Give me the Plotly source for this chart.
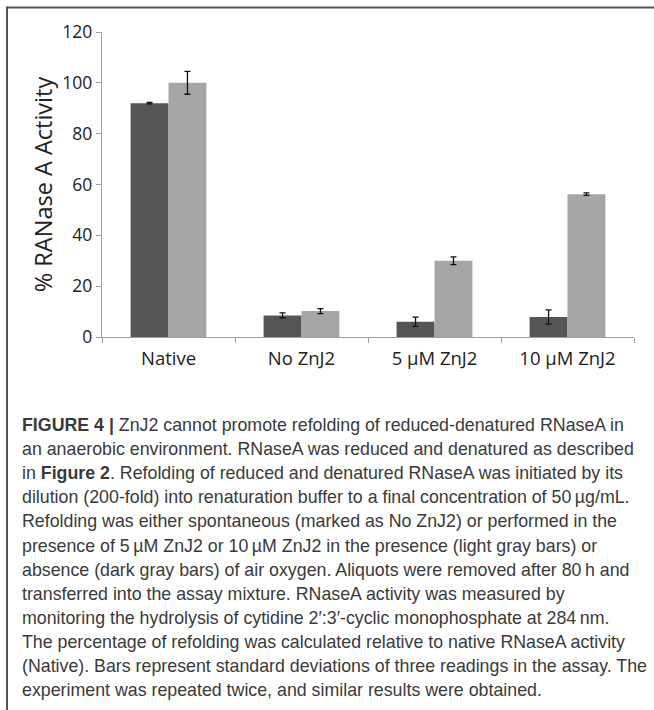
import plotly.graph_objects as go

categories = ["Native", "No ZnJ2", "5 µM ZnJ2", "10 µM ZnJ2"]
anaerobic = [92.0, 8.5, 6.0, 7.9]          # dark gray bars (absence of air oxygen)
anaerobic_err = [0.3, 1.0, 1.8, 2.8]
aerobic = [100.0, 10.2, 30.0, 56.2]        # light gray bars (presence of air oxygen)
aerobic_err = [4.5, 1.0, 1.5, 0.5]
y_ticks = [0, 20, 40, 60, 80, 100, 120]

caption_lines = [
    "<b>FIGURE 4 |</b> ZnJ2 cannot promote refolding of reduced-denatured RNaseA in",
    "an anaerobic environment. RNaseA was reduced and denatured as described",
    "in <b>Figure 2</b>. Refolding of reduced and denatured RNaseA was initiated by its",
    "dilution (200-fold) into renaturation buffer to a final concentration of 50\u2009µg/mL.",
    "Refolding was either spontaneous (marked as No ZnJ2) or performed in the",
    "presence of 5\u2009µM ZnJ2 or 10\u2009µM ZnJ2 in the presence (light gray bars) or",
    "absence (dark gray bars) of air oxygen. Aliquots were removed after 80\u2009h and",
    "transferred into the assay mixture. RNaseA activity was measured by",
    "monitoring the hydrolysis of cytidine 2\u2032:3\u2032-cyclic monophosphate at 284\u2009nm.",
    "The percentage of refolding was calculated relative to native RNaseA activity",
    "(Native). Bars represent standard deviations of three readings in the assay. The",
    "experiment was repeated twice, and similar results were obtained.",
]

W, H = 654, 710
PX0, PX1, PY_TOP, PY_BOT = 102, 634, 32, 337


def px(x):
    return (x - PX0) / (PX1 - PX0)


def py(y):
    return (PY_BOT - y) / (PY_BOT - PY_TOP)


fig = go.Figure()
fig.add_trace(go.Bar(
    x=categories, y=anaerobic, name="absence of air oxygen",
    marker=dict(color="#555555", line=dict(width=0)),
    error_y=dict(type="data", array=anaerobic_err, color="#111111", thickness=1.3, width=3),
))
fig.add_trace(go.Bar(
    x=categories, y=aerobic, name="presence of air oxygen",
    marker=dict(color="#a6a6a6", line=dict(width=0)),
    error_y=dict(type="data", array=aerobic_err, color="#111111", thickness=1.3, width=3),
))

fig.update_layout(
    width=W, height=H,
    margin=dict(l=PX0, r=W - PX1, t=PY_TOP, b=H - PY_BOT),
    paper_bgcolor="white", plot_bgcolor="white",
    barmode="group", bargap=0.43, bargroupgap=0.0,
    showlegend=False,
    xaxis=dict(
        showline=True, linecolor="#a0a0a0", linewidth=1.3,
        ticks="outside", ticklen=5, tickcolor="#a0a0a0", tickson="boundaries",
        tickfont=dict(family="Open Sans, Lato, sans-serif", size=18.5, color="#222222"),
        ticklabelstandoff=5,
        showgrid=False,
    ),
    yaxis=dict(
        range=[0, 120], tickvals=y_ticks,
        showline=True, linecolor="#a0a0a0", linewidth=1.3,
        ticks="outside", ticklen=5, tickcolor="#a0a0a0",
        tickfont=dict(family="Open Sans, Lato, sans-serif", size=17.5, color="#222222"),
        showgrid=False, zeroline=False,
        title=dict(text="% RANase A Activity",
                   font=dict(family="Open Sans, Lato, sans-serif", size=23.5, color="#222222"),
                   standoff=3),
    ),
)

# caption
cap_font = dict(family="Liberation Sans, Arial, sans-serif", size=17.8, color="#3a3a3a")
for i, line in enumerate(caption_lines):
    fig.add_annotation(
        text=line, xref="paper", yref="paper",
        x=px(20), y=py(425 + i * 24.1), xanchor="left", yanchor="middle",
        showarrow=False, font=cap_font, align="left",
    )

# frame
fig.add_shape(type="line", xref="paper", yref="paper",
              x0=px(7), x1=px(660), y0=py(7.5), y1=py(7.5),
              line=dict(color="#555555", width=2))
fig.add_shape(type="line", xref="paper", yref="paper",
              x0=px(7), x1=px(7), y0=py(6.5), y1=py(712),
              line=dict(color="#555555", width=2))

fig.write_html("out.html", post_script="document.body.style.margin='0px';",
               config={"displayModeBar": False})
